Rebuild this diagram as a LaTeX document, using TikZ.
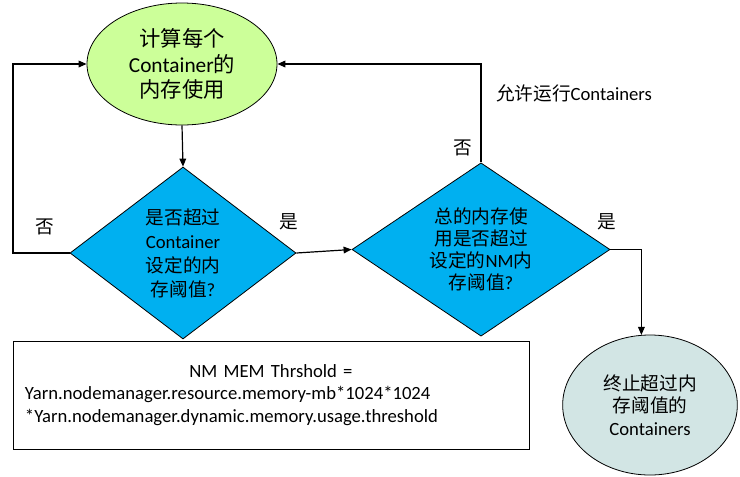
\documentclass[tikz,border=0pt]{standalone}
\usepackage{fontspec}
\setmainfont{Carlito}
\newfontfamily\zh{Noto Sans CJK SC}
\definecolor{nmGreen}{HTML}{CCFF99}
\definecolor{nmCyan}{HTML}{00B0F0}
\definecolor{nmTeal}{HTML}{D2E5E4}
\usetikzlibrary{arrows.meta,shapes.geometric}
\tikzset{
  flowarrow/.style={draw=black, line width=0.9pt, -{Triangle[length=6pt,width=5pt]}},
  decision/.style={diamond, draw=black, line width=0.6pt, fill=nmCyan, inner sep=0pt, align=center},
  tag/.style={font=\fontsize{14}{17}\selectfont, inner sep=0pt},
}

\begin{document}
\begin{tikzpicture}[x=0.75pt, y=-0.75pt]
  \useasboundingbox (0,0) rectangle (740,476);
  \node[ellipse, draw, line width=0.6pt, fill=nmGreen, minimum width=142.5pt, minimum height=91.5pt, inner sep=0pt, align=center, font=\fontsize{16}{19}\selectfont] (calc) at (182,64) {{\zh 计算每个}\\Container{\zh 的}\\{\zh 内存使用}};
  \node[decision, shape aspect=1.31, minimum width=169.5pt, minimum height=129pt, font=\fontsize{14}{18}\selectfont] (q1) at (183,253) {{\zh 是否超过}\\Container\\{\zh 设定的内}\\{\zh 存阈值}?};
  \node[decision, shape aspect=1.49, minimum width=193.5pt, minimum height=130pt, font=\fontsize{14}{16.5}\selectfont] (q2) at (481,249.5) {{\zh 总的内存使}\\{\zh 用是否超过}\\{\zh 设定的}NM{\zh 内}\\{\zh 存阈值}?};
  \node[ellipse, draw, line width=0.6pt, fill=nmTeal, minimum width=131pt, minimum height=105pt, inner sep=0pt, align=center, font=\fontsize{14}{17}\selectfont] (stop) at (650,405) {{\zh 终止超过内}\\{\zh 存阈值的}\\Containers};
  \node[draw, line width=0.6pt, fill=white, minimum width=387pt, minimum height=81pt, text width=369pt, align=left, font=\fontsize{14}{17}\selectfont] (thr) at (271,395) {\makebox[369pt]{NM MEM Thrshold =}\\Yarn.nodemanager.resource.memory-mb*1024*1024\\{}*Yarn.nodemanager.dynamic.memory.usage.threshold};

  \coordinate (lside) at (13,0);
  \draw[flowarrow] (calc.south) -- (q1.north);
  \draw[flowarrow] (q1.west) -- (q1.west -| lside) |- (calc.west);
  \draw[flowarrow] (q1.east) -- (q2.west);
  \draw[flowarrow] (q2.north) |- (calc.east);
  \draw[flowarrow] (q2.east) -| (stop.97);

  \node[tag] (no1) at (45,227) {\zh 否};
  \node[tag] (yes1) at (289,222) {\zh 是};
  \node[tag] (no2) at (463,148) {\zh 否};
  \node[tag] (run) at (574,93) {{\zh 允许运行}Containers};
  \node[tag] (yes2) at (607,222) {\zh 是};
\end{tikzpicture}
\end{document}
